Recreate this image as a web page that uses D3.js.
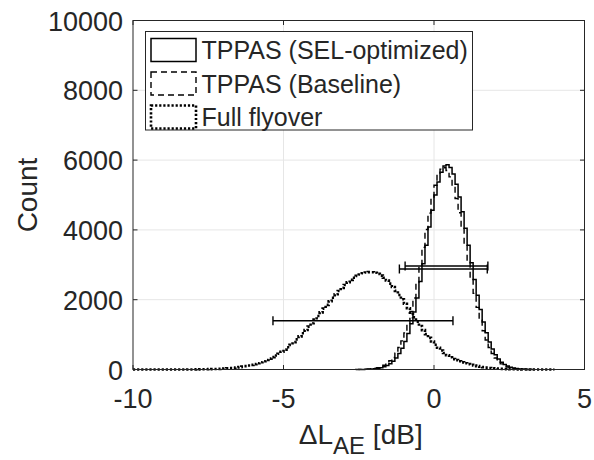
<!DOCTYPE html>
<html>
<head>
<meta charset="utf-8">
<script src="https://cdn.jsdelivr.net/npm/d3@7"></script>
<style>
  body { margin: 0; background: #fff; }
  text { font-family: "Liberation Sans", Arial, sans-serif; fill: #262626; }
</style>
</head>
<body>
<svg id="chart"></svg>
<script>
// histogram bins are 0.1 dB wide; each series lists counts from its first bin edge
const binWidth = 0.1;

// TPPAS (SEL-optimized), first edge -2.5
const selStart = -2.5;
const selCounts = [
  2, 3, 5, 8, 13, 20, 32, 50, 76, 112,
  165, 235, 330, 455, 610, 800, 1030, 1310, 1650, 2050,
  2520, 3030, 3560, 4080, 4560, 5000, 5370, 5650, 5830, 5870,
  5790, 5600, 5310, 4940, 4520, 4050, 3560, 3060, 2580, 2130,
  1720, 1360, 1050, 790, 585, 425, 300, 210, 145, 98,
  65, 42, 27, 17, 10, 6, 3, 2
];

// TPPAS (Baseline), first edge -2.6
const baseStart = -2.6;
const baseCounts = [
  2, 4, 6, 9, 15, 23, 36, 55, 82, 120,
  175, 250, 345, 470, 630, 820, 1050, 1330, 1660, 2050,
  2500, 2990, 3500, 4010, 4480, 4910, 5280, 5560, 5740, 5780,
  5700, 5520, 5250, 4900, 4490, 4040, 3570, 3090, 2620, 2180,
  1780, 1420, 1110, 845, 630, 460, 330, 232, 160, 108,
  72, 47, 30, 19, 12, 7, 4, 2
];

// Full flyover, first edge -10
const flyStart = -10.0;
const flyCounts = [
  0, 0, 0, 0, 0, 0, 0, 0, 0, 0,
  0, 0, 0, 0, 0, 0, 1, 1, 2, 2,
  3, 4, 5, 7, 8, 10, 13, 16, 19, 23,
  28, 34, 41, 49, 58, 69, 82, 96, 113, 132,
  154, 179, 207, 238, 273, 311, 354, 401, 453, 509,
  570, 636, 707, 783, 863, 948, 1038, 1131, 1228, 1327,
  1429, 1533, 1638, 1745, 1851, 1955, 2056, 2155, 2250, 2339,
  2423, 2500, 2569, 2630, 2682, 2724, 2756, 2778, 2789, 2788,
  2771, 2739, 2691, 2628, 2551, 2462, 2364, 2254, 2136, 2013,
  1886, 1757, 1627, 1498, 1371, 1247, 1127, 1013, 905, 804,
  710, 623, 543, 471, 407, 349, 297, 270, 235, 205,
  178, 155, 133, 113, 96, 80, 67, 55, 45, 37,
  30, 24, 19, 15, 12, 9, 7, 5, 4, 3,
  2, 2, 1, 1, 1, 0, 0, 0, 0, 0
];

// error bars: [low, high] at a count level
const errLow = [-0.96, -1.15, -5.35];
const errHigh = [1.79, 1.77, 0.63];
const errLevel = [2965, 2880, 1395];

const seriesNames = ["TPPAS (SEL-optimized)", "TPPAS (Baseline)", "Full flyover"];
const xTicks = [-10, -5, 0, 5];
const yTicks = [0, 2000, 4000, 6000, 8000, 10000];

const W = 594, H = 460;
const margin = {top: 20.5, right: 9.5, bottom: 90.5, left: 133};
const iw = W - margin.left - margin.right;
const ih = H - margin.top - margin.bottom;

const svg = d3.select("#chart").attr("width", W).attr("height", H);
const g = svg.append("g").attr("transform", `translate(${margin.left},${margin.top})`);

const x = d3.scaleLinear().domain([-10, 5]).range([0, iw]);
const y = d3.scaleLinear().domain([0, 10000]).range([ih, 0]);

// grid
g.append("g").selectAll("line").data(xTicks.slice(1, -1)).join("line")
  .attr("x1", d => x(d)).attr("x2", d => x(d)).attr("y1", 0).attr("y2", ih)
  .attr("stroke", "#e6e6e6").attr("stroke-width", 1);
g.append("g").selectAll("line").data(yTicks.slice(1, -1)).join("line")
  .attr("y1", d => y(d)).attr("y2", d => y(d)).attr("x1", 0).attr("x2", iw)
  .attr("stroke", "#e6e6e6").attr("stroke-width", 1);

// stairs outline of a histogram
function stairs(start, counts) {
  const pts = [[start, 0]];
  counts.forEach((c, i) => {
    pts.push([start + i * binWidth, c]);
    pts.push([start + (i + 1) * binWidth, c]);
  });
  pts.push([start + counts.length * binWidth, 0]);
  return pts;
}
const line = d3.line().x(d => x(d[0])).y(d => y(d[1]));

const styles = [
  {dash: null, width: 1.5},
  {dash: "6 4", width: 1.4},
  {dash: "2.2 1.9", width: 2.6}
];
const hists = [[selStart, selCounts], [baseStart, baseCounts], [flyStart, flyCounts]];

hists.forEach((h, i) => {
  g.append("path")
    .attr("d", line(stairs(h[0], h[1])))
    .attr("fill", "none")
    .attr("stroke", "#000")
    .attr("stroke-width", styles[i].width)
    .attr("stroke-dasharray", styles[i].dash);
});

// error bars
const eb = g.append("g").attr("stroke", "#000").attr("stroke-width", 1.4);
errLevel.forEach((lv, i) => {
  const yy = y(lv);
  eb.append("line").attr("x1", x(errLow[i])).attr("x2", x(errHigh[i])).attr("y1", yy).attr("y2", yy);
  [errLow[i], errHigh[i]].forEach(v => {
    eb.append("line").attr("x1", x(v)).attr("x2", x(v)).attr("y1", yy - 4.5).attr("y2", yy + 4.5);
  });
});

// axes box and ticks
const ax = g.append("g").attr("stroke", "#262626").attr("stroke-width", 1);
ax.append("rect").attr("width", iw).attr("height", ih).attr("fill", "none");
xTicks.forEach(t => {
  ax.append("line").attr("x1", x(t)).attr("x2", x(t)).attr("y1", ih).attr("y2", ih - 4.5);
  ax.append("line").attr("x1", x(t)).attr("x2", x(t)).attr("y1", 0).attr("y2", 4.5);
});
yTicks.forEach(t => {
  ax.append("line").attr("y1", y(t)).attr("y2", y(t)).attr("x1", 0).attr("x2", 4.5);
  ax.append("line").attr("y1", y(t)).attr("y2", y(t)).attr("x1", iw).attr("x2", iw - 4.5);
});

g.selectAll(".xt").data(xTicks).join("text")
  .attr("x", d => x(d)).attr("y", ih + 38)
  .attr("text-anchor", "middle").attr("font-size", 27)
  .text(d => d);
g.selectAll(".yt").data(yTicks).join("text")
  .attr("x", -10).attr("y", d => y(d) + 10)
  .attr("text-anchor", "end").attr("font-size", 27)
  .text(d => d);

// axis labels
svg.append("text")
  .attr("transform", `translate(37,${margin.top + ih / 2}) rotate(-90)`)
  .attr("text-anchor", "middle").attr("font-size", 28)
  .text("Count");
const xl = svg.append("text")
  .attr("x", margin.left + iw / 2 + 2).attr("y", 444)
  .attr("text-anchor", "middle").attr("font-size", 28);
xl.append("tspan").text("\u0394L");
xl.append("tspan").attr("dy", 10).attr("font-size", 24).text("AE");
xl.append("tspan").attr("dy", -10).text(" [dB]");

// legend
const lg = svg.append("g").attr("transform", "translate(145.5,31.5)");
lg.append("rect").attr("width", 327).attr("height", 98.5)
  .attr("fill", "#fff").attr("stroke", "#262626").attr("stroke-width", 1);
seriesNames.forEach((name, i) => {
  const cy = 18.5 + i * 33.5;
  lg.append("rect")
    .attr("x", 5.5).attr("y", cy - 11.5).attr("width", 45).attr("height", 23)
    .attr("fill", "none").attr("stroke", "#000")
    .attr("stroke-width", styles[i].width)
    .attr("stroke-dasharray", styles[i].dash);
  lg.append("text")
    .attr("x", 56).attr("y", cy + 9)
    .attr("font-size", 25)
    .text(name);
});
</script>
</body>
</html>
